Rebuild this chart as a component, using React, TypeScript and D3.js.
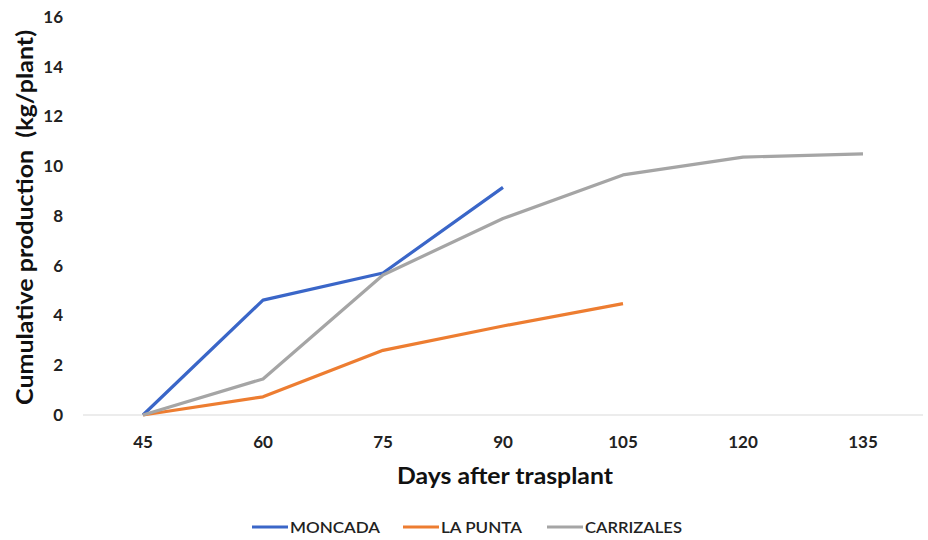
import React, { useEffect, useRef } from 'react';
import * as d3 from 'd3';

const days = ['45', '60', '75', '90', '105', '120', '135'];
const moncada = [0, 4.62, 5.71, 9.15];
const laPunta = [0, 0.73, 2.6, 3.58, 4.48];
const carrizales = [0, 1.45, 5.63, 7.9, 9.65, 10.37, 10.5];
const yTicks = [0, 2, 4, 6, 8, 10, 12, 14, 16];

const seriesNames = ['MONCADA', 'LA PUNTA', 'CARRIZALES'];
const seriesColors = ['#3A66C8', '#ED7D31', '#A5A5A5'];

const App: React.FC = () => {
  const svgRef = useRef<SVGSVGElement>(null);

  useEffect(() => {
    if (!svgRef.current) return;
    const svg = d3.select(svgRef.current);
    svg.selectAll('*').remove();

    const font = 'Lato, "Open Sans", sans-serif';
    const left = 83, right = 923, top = 17, bottom = 415;

    const x = d3.scaleBand<string>().domain(days).range([left, right]);
    const y = d3.scaleLinear().domain([0, 16]).range([bottom, top]);
    const cx = (d: string) => (x(d) as number) + x.bandwidth() / 2;

    // baseline
    svg.append('line')
      .attr('x1', left).attr('x2', right)
      .attr('y1', y(0)).attr('y2', y(0))
      .attr('stroke', '#d9d9d9').attr('stroke-width', 1);

    // y tick labels
    svg.append('g').selectAll('text')
      .data(yTicks).enter().append('text')
      .attr('x', 63)
      .attr('y', d => y(d))
      .attr('dy', '0.35em')
      .attr('text-anchor', 'end')
      .style('font-family', font)
      .style('font-size', '17px')
      .style('font-weight', 'bold')
      .style('fill', '#222')
      .text(d => d);

    // x tick labels
    svg.append('g').selectAll('text')
      .data(days).enter().append('text')
      .attr('x', d => cx(d))
      .attr('y', 448)
      .attr('text-anchor', 'middle')
      .style('font-family', font)
      .style('font-size', '17px')
      .style('font-weight', 'bold')
      .style('fill', '#222')
      .text(d => d);

    // axis titles
    svg.append('text')
      .attr('transform', `translate(33,${(30 + 405) / 2}) rotate(-90)`)
      .attr('text-anchor', 'middle')
      .attr('textLength', 375)
      .attr('lengthAdjust', 'spacingAndGlyphs')
      .style('font-family', font)
      .style('font-size', '22px')
      .style('font-weight', 'bold')
      .style('fill', '#111')
      .style('white-space', 'pre')
      .text('Cumulative production  (kg/plant)');

    svg.append('text')
      .attr('x', 505)
      .attr('y', 484)
      .attr('text-anchor', 'middle')
      .attr('textLength', 216)
      .attr('lengthAdjust', 'spacingAndGlyphs')
      .style('font-family', font)
      .style('font-size', '22px')
      .style('font-weight', 'bold')
      .style('fill', '#111')
      .text('Days after trasplant');

    // lines
    const allSeries = [moncada, laPunta, carrizales];
    const line = d3.line<number>()
      .x((_, i) => cx(days[i]))
      .y(d => y(d));

    allSeries.forEach((vals, i) => {
      svg.append('path')
        .datum(vals)
        .attr('d', line)
        .attr('fill', 'none')
        .attr('stroke', seriesColors[i])
        .attr('stroke-width', 3.2)
        .attr('stroke-linejoin', 'round');
    });

    // legend
    const legendX = [252, 403, 547];
    const legendW = [90, 81, 97];
    const lg = svg.append('g');
    seriesNames.forEach((name, i) => {
      lg.append('line')
        .attr('x1', legendX[i]).attr('x2', legendX[i] + 36)
        .attr('y1', 527).attr('y2', 527)
        .attr('stroke', seriesColors[i])
        .attr('stroke-width', 3);
      lg.append('text')
        .attr('x', legendX[i] + 38)
        .attr('y', 527)
        .attr('dy', '0.36em')
        .attr('textLength', legendW[i])
        .attr('lengthAdjust', 'spacingAndGlyphs')
        .style('font-family', font)
        .style('font-size', '16px')
        .style('font-weight', 600)
        .style('fill', '#222')
        .text(name);
    });
  }, []);

  return (
    <div style={{ position: 'absolute', top: 0, left: 0 }}>
      <svg ref={svgRef} width="928" height="540" style={{ display: 'block', background: '#fff' }} />
    </div>
  );
};

export default App;
